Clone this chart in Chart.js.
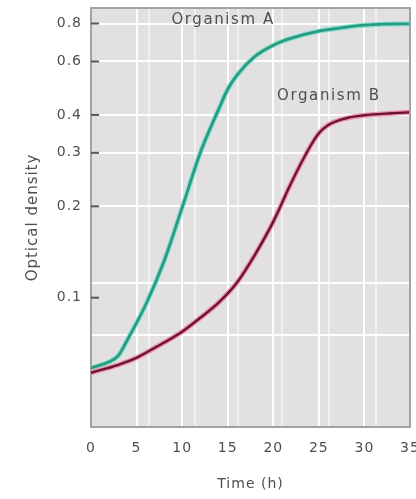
<!DOCTYPE html>
<html>
<head>
<meta charset="utf-8">
<script src="https://cdn.jsdelivr.net/npm/chart.js@4/dist/chart.umd.min.js"></script>
<style>
  html, body { margin: 0; padding: 0; background: #fff; overflow: hidden; }
  #growth { display: block; }
</style>
</head>
<body>
<canvas id="growth" width="426" height="499"></canvas>
<script>
// Growth curves: optical density over time (h), log scale
const hoursA = [0, 2, 3, 4, 6, 8, 10, 12, 14, 15, 16, 18, 20, 22, 25, 28, 30, 32, 35];
const organismA = [0.0587, 0.0615, 0.0644, 0.0727, 0.0948, 0.1315, 0.198, 0.301, 0.417, 0.486, 0.540, 0.624, 0.679, 0.716, 0.755, 0.778, 0.790, 0.796, 0.798];

const hoursB = [0, 3, 5, 7, 10, 12, 14, 16, 18, 20, 22, 24, 25, 26, 28, 30, 33, 35];
const organismB = [0.0566, 0.0601, 0.0634, 0.0684, 0.0773, 0.0859, 0.0963, 0.112, 0.1387, 0.178, 0.240, 0.313, 0.348, 0.370, 0.390, 0.399, 0.405, 0.408];

const timeTicks = [0, 5, 10, 15, 20, 25, 30, 35];
const densityTicks = [0.1, 0.2, 0.3, 0.4, 0.6, 0.8];
// secondary grid rules of the printed graph paper
const extraTimeRules = [6.4, 11.4, 16.1, 21, 26.1, 31.3];
const extraDensityRules = [0.0755, 0.112];

const seriesNames = ['Organism A', 'Organism B'];

const FONT = "'DejaVu Sans', sans-serif";
const TEXT = '#4f4f4f';

function points(xs, ys) {
  return xs.map((x, i) => ({ x: x, y: ys[i] }));
}

function setSpacing(chart) {
  chart.ctx.letterSpacing = '1px';
}

const paperPlugin = {
  id: 'paper',
  beforeUpdate: setSpacing,
  beforeDraw(chart) {
    setSpacing(chart);
    const { ctx, chartArea: a } = chart;
    ctx.save();
    ctx.fillStyle = '#e3e0e2';
    ctx.fillRect(a.left, a.top, a.right - a.left, a.bottom - a.top);
    ctx.restore();
  },
  afterDatasetsDraw(chart) {
    const { ctx, chartArea: a, scales } = chart;
    ctx.save();
    // frame top and right
    ctx.strokeStyle = '#a3a1a3';
    ctx.lineWidth = 2;
    ctx.beginPath();
    ctx.moveTo(a.left, a.top);
    ctx.lineTo(a.right, a.top);
    ctx.lineTo(a.right, a.bottom);
    ctx.stroke();
    // inward tick marks on the density axis
    ctx.strokeStyle = '#555';
    ctx.lineWidth = 2;
    densityTicks.forEach(v => {
      const y = scales.y.getPixelForValue(v);
      ctx.beginPath();
      ctx.moveTo(a.left, y);
      ctx.lineTo(a.left + 8, y);
      ctx.stroke();
    });
    // curve names
    ctx.fillStyle = TEXT;
    ctx.font = '15px ' + FONT;
    ctx.letterSpacing = '1.6px';
    ctx.textAlign = 'center';
    ctx.textBaseline = 'middle';
    const spots = [[14.5, 0.82], [26.1, 0.46]];
    seriesNames.forEach((name, i) => {
      ctx.fillText(name, scales.x.getPixelForValue(spots[i][0]), scales.y.getPixelForValue(spots[i][1]));
    });
    ctx.restore();
  }
};

const lineBase = {
  fill: false,
  pointRadius: 0,
  cubicInterpolationMode: 'monotone',
  borderCapStyle: 'round',
  borderJoinStyle: 'round'
};

new Chart(document.getElementById('growth'), {
  type: 'line',
  data: {
    datasets: [
      Object.assign({ label: seriesNames[0] + ' halo', data: points(hoursA, organismA), borderColor: 'rgba(110,225,200,0.8)', borderWidth: 5, order: 4 }, lineBase),
      Object.assign({ label: seriesNames[1] + ' halo', data: points(hoursB, organismB), borderColor: 'rgba(240,130,160,0.85)', borderWidth: 5, order: 3 }, lineBase),
      Object.assign({ label: seriesNames[0], data: points(hoursA, organismA), borderColor: '#2a9a83', borderWidth: 2.8, order: 2 }, lineBase),
      Object.assign({ label: seriesNames[1], data: points(hoursB, organismB), borderColor: '#6a1433', borderWidth: 2.4, order: 1 }, lineBase)
    ]
  },
  options: {
    responsive: false,
    animation: false,
    layout: { padding: { top: 8, right: 16, left: 0, bottom: 0 } },
    plugins: { legend: { display: false }, tooltip: { enabled: false } },
    scales: {
      x: {
        type: 'linear',
        min: 0,
        max: 35,
        afterBuildTicks(scale) {
          scale.ticks = timeTicks.concat(extraTimeRules).sort((p, q) => p - q).map(v => ({ value: v }));
        },
        afterFit(scale) {
          scale.height = 72;
          scale.paddingLeft = 0;
          scale.paddingRight = 0;
        },
        ticks: {
          autoSkip: false,
          maxRotation: 0,
          padding: 13,
          color: TEXT,
          font: { family: FONT, size: 14 },
          callback: v => timeTicks.includes(v) ? String(v) : ''
        },
        grid: {
          drawTicks: false,
          lineWidth: 2,
          color: ctx => {
            const v = ctx.tick ? ctx.tick.value : null;
            if (v === 0 || v === 35) return 'rgba(0,0,0,0)';
            return timeTicks.includes(v) ? 'rgba(255,255,255,0.95)' : 'rgba(255,255,255,0.55)';
          }
        },
        border: { color: '#a3a1a3', width: 2 },
        title: {
          display: true,
          text: 'Time (h)',
          color: TEXT,
          font: { family: FONT, size: 14 },
          padding: { top: 0, bottom: 6 }
        }
      },
      y: {
        type: 'logarithmic',
        min: 0.0375,
        max: 0.9,
        afterBuildTicks(scale) {
          scale.ticks = densityTicks.concat(extraDensityRules).sort((p, q) => p - q).map(v => ({ value: v }));
        },
        afterFit(scale) {
          scale.width = 91;
          scale.paddingTop = 0;
          scale.paddingBottom = 0;
        },
        ticks: {
          autoSkip: false,
          padding: 9,
          color: TEXT,
          font: { family: FONT, size: 14 },
          callback: v => densityTicks.includes(v) ? v.toFixed(1) : ''
        },
        grid: {
          drawTicks: false,
          lineWidth: 2,
          color: ctx => {
            const v = ctx.tick ? ctx.tick.value : null;
            return v === 0.1 ? 'rgba(0,0,0,0)' : 'rgba(255,255,255,0.95)';
          }
        },
        border: { color: '#a3a1a3', width: 2 },
        title: {
          display: true,
          text: 'Optical density',
          color: TEXT,
          font: { family: FONT, size: 15 },
          padding: { top: 24, bottom: 0 }
        }
      }
    }
  },
  plugins: [paperPlugin]
});
</script>
</body>
</html>
